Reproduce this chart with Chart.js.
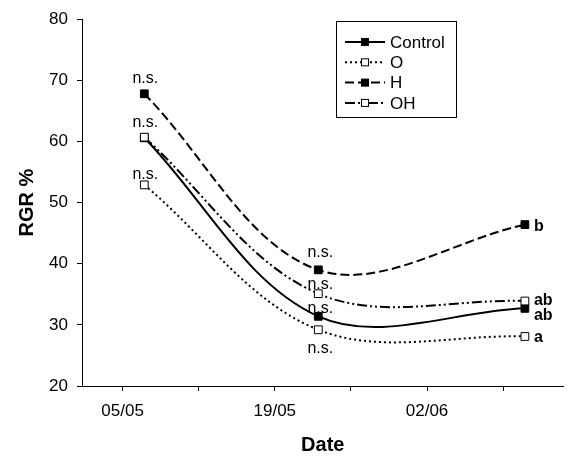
<!DOCTYPE html>
<html><head><meta charset="utf-8">
<script src="https://cdn.jsdelivr.net/npm/chart.js@4"></script>
<style>html,body{margin:0;padding:0;background:#fff}#wrap{width:570px;height:457px}</style>
</head><body><div id="wrap"><canvas id="c" width="570" height="457"></canvas></div>
<script>
// ---- data ----
const sampleDates = ['07/05', '23/05', '11/06'];
const seriesNames = ['Control', 'O', 'H', 'OH'];
const controlValues = [60.6, 31.4, 32.7];
const oValues = [52.9, 29.2, 28.1];
const hValues = [67.8, 39.0, 46.4];
const ohValues = [60.7, 35.1, 33.9];
const controlLabels = ['', 'n.s.', 'ab'];
const oLabels = ['n.s.', 'n.s.', 'a'];
const hLabels = ['n.s.', 'n.s.', 'b'];
const ohLabels = ['n.s.', 'n.s.', 'ab'];
const majorTickLabels = ['05/05', '19/05', '02/06'];
const minorTickLabels = ['12/05', '26/05', '09/06'];
const yTicks = [20, 30, 40, 50, 60, 70, 80];

// days since 1 May
function dayOf(s) {
  const [d, m] = s.split('/').map(Number);
  return (Date.UTC(2009, m - 1, d) - Date.UTC(2009, 4, 1)) / 86400000;
}
const xs = sampleDates.map(dayOf);
const majorMap = {};
majorTickLabels.forEach(l => majorMap[dayOf(l)] = l);
const allTicks = majorTickLabels.concat(minorTickLabels).map(dayOf).sort((a, b) => a - b);

const FONT = 'Arial, "Liberation Sans", sans-serif';
const mk = (vals) => vals.map((v, i) => ({ x: xs[i], y: v }));

const styles = [
  { dash: [], fill: '#000' },
  { dash: [2, 3], fill: '#fff' },
  { dash: [9, 4], fill: '#000' },
  { dash: [10, 3, 2, 3, 2, 3], fill: '#fff' }
];
const allVals = [controlValues, oValues, hValues, ohValues];
const allLabels = [controlLabels, oLabels, hLabels, ohLabels];

const datasets = seriesNames.map((n, i) => ({
  label: n,
  data: mk(allVals[i]),
  borderColor: '#000',
  borderWidth: 2,
  borderDash: styles[i].dash,
  tension: 0.35,
  pointStyle: 'rect',
  pointRadius: 5.5,
  pointHoverRadius: 5.5,
  pointBorderWidth: 1,
  pointBorderColor: '#000',
  pointBackgroundColor: styles[i].fill,
  order: [3, 2, 1, 0][i],
  fill: false
}));

// annotation offsets (style only): [dx, dy]
const nsOffsets = [
  [null, [2, -3], null],
  [[1, -6], [2, 23], null],
  [[1, -11], [2, -13], null],
  [[1, -10], [2, -5], null]
];
const letterDy = [7, 1, 2, 0];

const annotPlugin = {
  id: 'annot',
  afterDatasetsDraw(chart) {
    const ctx = chart.ctx;
    ctx.save();
    ctx.fillStyle = '#000';
    allLabels.forEach((labels, si) => {
      const meta = chart.getDatasetMeta(si);
      labels.forEach((t, j) => {
        if (!t) return;
        const p = meta.data[j];
        if (t === 'n.s.') {
          const o = nsOffsets[si][j];
          ctx.font = '16px ' + FONT;
          ctx.textAlign = 'center';
          ctx.textBaseline = 'alphabetic';
          ctx.fillText(t, p.x + o[0], p.y + o[1]);
        } else {
          ctx.font = 'bold 16px ' + FONT;
          ctx.textAlign = 'left';
          ctx.textBaseline = 'middle';
          ctx.fillText(t, p.x + 9, p.y + letterDy[si]);
        }
      });
    });
    ctx.restore();
  },
  afterDraw(chart) {
    const ctx = chart.ctx;
    ctx.save();
    ctx.fillStyle = '#fff';
    ctx.fillRect(336.5, 21.5, 120, 96);
    ctx.strokeStyle = '#000';
    ctx.lineWidth = 1;
    ctx.strokeRect(336.5, 21.5, 120, 96);
    chart.data.datasets.forEach((ds, i) => {
      const y = 42 + i * 20.3;
      ctx.beginPath();
      ctx.setLineDash(ds.borderDash);
      ctx.lineWidth = 2;
      ctx.moveTo(345, y);
      ctx.lineTo(385, y);
      ctx.stroke();
      ctx.setLineDash([]);
      ctx.lineWidth = 1;
      ctx.fillStyle = ds.pointBackgroundColor;
      ctx.fillRect(361.5, y - 3.5, 7, 7);
      ctx.strokeRect(361.5, y - 3.5, 7, 7);
      ctx.fillStyle = '#000';
      ctx.font = '17px ' + FONT;
      ctx.textAlign = 'left';
      ctx.textBaseline = 'middle';
      ctx.fillText(ds.label, 390, y + 1);
    });
    ctx.restore();
  }
};

new Chart(document.getElementById('c'), {
  type: 'line',
  data: { datasets },
  plugins: [annotPlugin],
  options: {
    responsive: false,
    animation: false,
    events: [],
    layout: { padding: { top: 15, right: 1, left: 0, bottom: 0 } },
    plugins: { legend: { display: false }, tooltip: { enabled: false } },
    scales: {
      x: {
        type: 'linear',
        min: 0.27,
        max: 44.55,
        afterBuildTicks: (s) => { s.ticks = allTicks.map(v => ({ value: v })); },
        afterFit: (s) => { s.height = 71; },
        grid: { drawOnChartArea: false, tickLength: 5, color: '#000' },
        border: { color: '#000', width: 1 },
        ticks: {
          autoSkip: false, maxRotation: 0, color: '#000', padding: 10,
          font: { family: FONT, size: 17 },
          callback: (v) => majorMap[v] || ''
        },
        title: { display: true, text: 'Date', color: '#000', font: { family: FONT, size: 20, weight: 'bold' }, padding: { top: 0, bottom: 0 } }
      },
      y: {
        min: 20, max: 80,
        afterBuildTicks: (s) => { s.ticks = yTicks.map(v => ({ value: v })); },
        afterFit: (s) => { s.width = 82; },
        grid: { drawOnChartArea: false, tickLength: 5, color: '#000' },
        border: { color: '#000', width: 1 },
        ticks: { color: '#000', padding: 9, font: { family: FONT, size: 17 } },
        title: { display: true, text: 'RGR %', color: '#000', font: { family: FONT, size: 20, weight: 'bold' }, padding: { top: 15, bottom: 0 } }
      }
    }
  }
});
</script>
</body></html>
